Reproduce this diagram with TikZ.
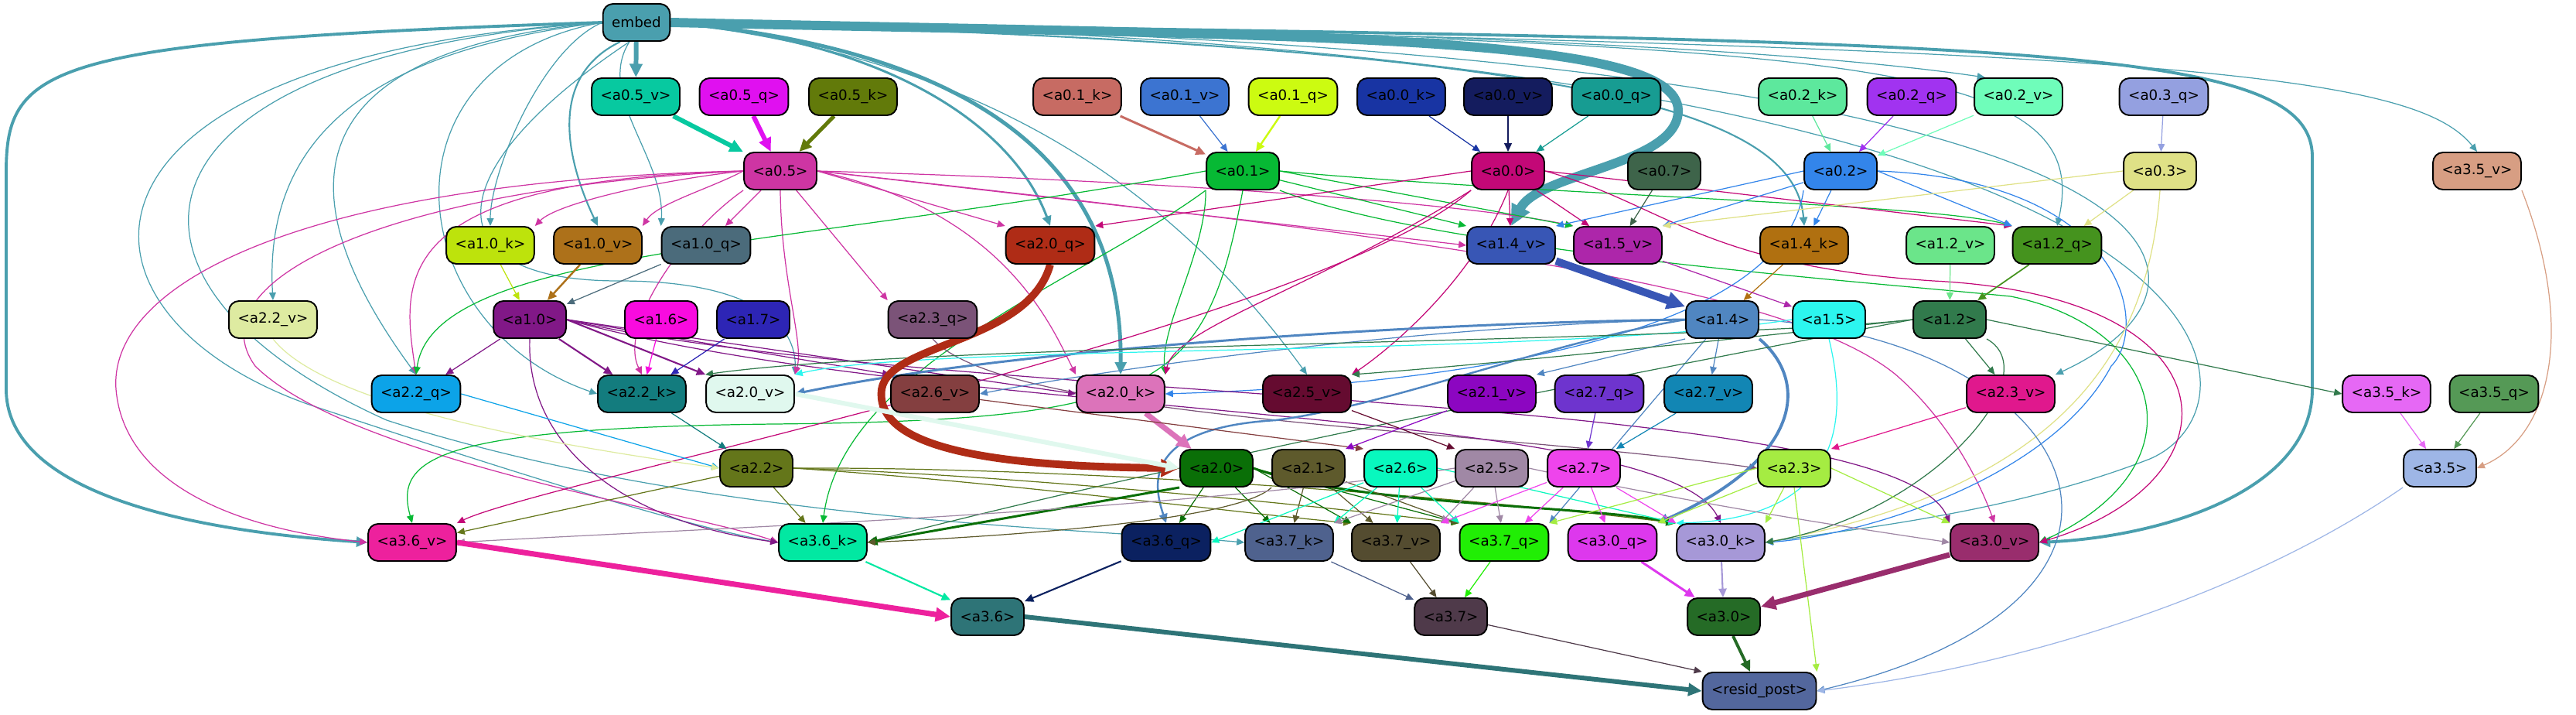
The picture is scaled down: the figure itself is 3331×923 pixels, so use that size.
\documentclass[tikz,border=0pt]{standalone}
\usepackage{fontspec}
\setmainfont{DejaVu Sans}
\usepackage{tikz}
\usetikzlibrary{arrows.meta,backgrounds}
\definecolor{cemb}{HTML}{4A9FAE}
\definecolor{c05v}{HTML}{07C9A0}
\definecolor{c05q}{HTML}{E010F0}
\definecolor{c05k}{HTML}{627A0A}
\definecolor{c01k}{HTML}{C76B63}
\definecolor{c01v}{HTML}{3C74D1}
\definecolor{c01q}{HTML}{CCFB11}
\definecolor{c00k}{HTML}{1834A3}
\definecolor{c00v}{HTML}{141C5E}
\definecolor{c00q}{HTML}{179C92}
\definecolor{c02k}{HTML}{5DE89D}
\definecolor{c02q}{HTML}{A133F0}
\definecolor{c02v}{HTML}{6FFDBA}
\definecolor{c03q}{HTML}{94A0E0}
\definecolor{c05}{HTML}{CE35A3}
\definecolor{c01}{HTML}{07B934}
\definecolor{c00}{HTML}{C30877}
\definecolor{c07}{HTML}{3E644A}
\definecolor{c02}{HTML}{3385EA}
\definecolor{c03}{HTML}{DFE186}
\definecolor{c35v}{HTML}{D79E83}
\definecolor{c10k}{HTML}{BDE30C}
\definecolor{c10v}{HTML}{AD711A}
\definecolor{c10q}{HTML}{4B6B7B}
\definecolor{c20q}{HTML}{AF2C16}
\definecolor{c14v}{HTML}{3856B5}
\definecolor{c15v}{HTML}{AD26AA}
\definecolor{c14k}{HTML}{B07010}
\definecolor{c12v}{HTML}{6BE58A}
\definecolor{c12q}{HTML}{45931E}
\definecolor{c22v}{HTML}{DEEBA1}
\definecolor{c10}{HTML}{811887}
\definecolor{c16}{HTML}{F90BDF}
\definecolor{c17}{HTML}{2D25B5}
\definecolor{c23q}{HTML}{7B5378}
\definecolor{c14}{HTML}{5086C1}
\definecolor{c15}{HTML}{2CF6EF}
\definecolor{c12}{HTML}{317A4C}
\definecolor{c22q}{HTML}{0CA3E8}
\definecolor{c22k}{HTML}{137C7E}
\definecolor{c20v}{HTML}{E0F8EE}
\definecolor{c26v}{HTML}{843F40}
\definecolor{c20k}{HTML}{DC73BA}
\definecolor{c25v}{HTML}{650B30}
\definecolor{c21v}{HTML}{8C06C1}
\definecolor{c27q}{HTML}{6E34CE}
\definecolor{c27v}{HTML}{1286B4}
\definecolor{c23v}{HTML}{E0188D}
\definecolor{c35k}{HTML}{E668F5}
\definecolor{c35q}{HTML}{559956}
\definecolor{c22}{HTML}{64761A}
\definecolor{c20}{HTML}{0A6F07}
\definecolor{c21}{HTML}{5E5A2C}
\definecolor{c26}{HTML}{08F8BE}
\definecolor{c25}{HTML}{A088A5}
\definecolor{c27}{HTML}{EE44EC}
\definecolor{c23}{HTML}{A5EC42}
\definecolor{c35}{HTML}{9EB6E6}
\definecolor{c36v}{HTML}{ED219D}
\definecolor{c36k}{HTML}{02E8A2}
\definecolor{c36q}{HTML}{0B2160}
\definecolor{c37k}{HTML}{4F628E}
\definecolor{c37v}{HTML}{544C30}
\definecolor{c37q}{HTML}{21EE05}
\definecolor{c30q}{HTML}{DD38ED}
\definecolor{c30k}{HTML}{A698D7}
\definecolor{c30v}{HTML}{992D6D}
\definecolor{c36}{HTML}{2E7477}
\definecolor{c37}{HTML}{4F3A4A}
\definecolor{c30}{HTML}{256B26}
\definecolor{cres}{HTML}{53679D}

\begin{document}
\begin{tikzpicture}[x=0.01cm,y=0.01cm,
  nd/.style={rectangle,rounded corners=1.3mm,draw=black,line width=0.55pt,minimum height=4.8mm,inner xsep=1.15mm,inner ysep=0pt,font=\fontsize{5.2}{6}\selectfont},
  arr/.style={-{Triangle[length=0.8mm 1.6,width=0.7mm 1.5]},line width=0.35pt}]
\useasboundingbox (0,0) rectangle (3331,923);
\node[nd,fill=cemb] (emb) at (823,894) {embed};
\node[nd,fill=c05v] (a05v) at (822,798) {<a0.5\_v>};
\node[nd,fill=c05q] (a05q) at (962,798) {<a0.5\_q>};
\node[nd,fill=c05k] (a05k) at (1103,798) {<a0.5\_k>};
\node[nd,fill=c01k] (a01k) at (1393,798) {<a0.1\_k>};
\node[nd,fill=c01v] (a01v) at (1532,798) {<a0.1\_v>};
\node[nd,fill=c01q] (a01q) at (1672,798) {<a0.1\_q>};
\node[nd,fill=c00k] (a00k) at (1812,798) {<a0.0\_k>};
\node[nd,fill=c00v] (a00v) at (1950,798) {<a0.0\_v>};
\node[nd,fill=c00q] (a00q) at (2090,798) {<a0.0\_q>};
\node[nd,fill=c02k] (a02k) at (2331,798) {<a0.2\_k>};
\node[nd,fill=c02q] (a02q) at (2472,798) {<a0.2\_q>};
\node[nd,fill=c02v] (a02v) at (2610,798) {<a0.2\_v>};
\node[nd,fill=c03q] (a03q) at (2798,798) {<a0.3\_q>};
\node[nd,fill=c05] (a05) at (1009,702) {<a0.5>};
\node[nd,fill=c01] (a01) at (1607,702) {<a0.1>};
\node[nd,fill=c00] (a00) at (1950,702) {<a0.0>};
\node[nd,fill=c07] (a07) at (2152,702) {<a0.7>};
\node[nd,fill=c02] (a02) at (2380,702) {<a0.2>};
\node[nd,fill=c03] (a03) at (2793,702) {<a0.3>};
\node[nd,fill=c35v] (a35v) at (3203,702) {<a3.5\_v>};
\node[nd,fill=c10k] (a10k) at (634,606) {<a1.0\_k>};
\node[nd,fill=c10v] (a10v) at (773,606) {<a1.0\_v>};
\node[nd,fill=c10q] (a10q) at (913,606) {<a1.0\_q>};
\node[nd,fill=c20q] (a20q) at (1358,606) {<a2.0\_q>};
\node[nd,fill=c14v] (a14v) at (1954,606) {<a1.4\_v>};
\node[nd,fill=c15v] (a15v) at (2092,606) {<a1.5\_v>};
\node[nd,fill=c14k] (a14k) at (2333,606) {<a1.4\_k>};
\node[nd,fill=c12v] (a12v) at (2522,606) {<a1.2\_v>};
\node[nd,fill=c12q] (a12q) at (2660,606) {<a1.2\_q>};
\node[nd,fill=c22v] (a22v) at (353,510) {<a2.2\_v>};
\node[nd,fill=c10] (a10) at (685,510) {<a1.0>};
\node[nd,fill=c16] (a16) at (855,510) {<a1.6>};
\node[nd,fill=c17] (a17) at (974,510) {<a1.7>};
\node[nd,fill=c23q] (a23q) at (1206,510) {<a2.3\_q>};
\node[nd,fill=c14] (a14) at (2227,510) {<a1.4>};
\node[nd,fill=c15] (a15) at (2365,510) {<a1.5>};
\node[nd,fill=c12] (a12) at (2521,510) {<a1.2>};
\node[nd,fill=c22q] (a22q) at (538,414) {<a2.2\_q>};
\node[nd,fill=c22k] (a22k) at (830,414) {<a2.2\_k>};
\node[nd,fill=c20v] (a20v) at (970,414) {<a2.0\_v>};
\node[nd,fill=c26v] (a26v) at (1209,414) {<a2.6\_v>};
\node[nd,fill=c20k] (a20k) at (1449,414) {<a2.0\_k>};
\node[nd,fill=c25v] (a25v) at (1690,414) {<a2.5\_v>};
\node[nd,fill=c21v] (a21v) at (1929,414) {<a2.1\_v>};
\node[nd,fill=c27q] (a27q) at (2068,414) {<a2.7\_q>};
\node[nd,fill=c27v] (a27v) at (2209,414) {<a2.7\_v>};
\node[nd,fill=c23v] (a23v) at (2600,414) {<a2.3\_v>};
\node[nd,fill=c35k] (a35k) at (3086,414) {<a3.5\_k>};
\node[nd,fill=c35q] (a35q) at (3225,414) {<a3.5\_q>};
\node[nd,fill=c22] (a22) at (978,318) {<a2.2>};
\node[nd,fill=c20] (a20) at (1573,318) {<a2.0>};
\node[nd,fill=c21] (a21) at (1692,318) {<a2.1>};
\node[nd,fill=c26] (a26) at (1811,318) {<a2.6>};
\node[nd,fill=c25] (a25) at (1929,318) {<a2.5>};
\node[nd,fill=c27] (a27) at (2048,318) {<a2.7>};
\node[nd,fill=c23] (a23) at (2320,318) {<a2.3>};
\node[nd,fill=c35] (a35) at (3155,318) {<a3.5>};
\node[nd,fill=c36v] (a36v) at (533,222) {<a3.6\_v>};
\node[nd,fill=c36k] (a36k) at (1064,222) {<a3.6\_k>};
\node[nd,fill=c36q] (a36q) at (1508,222) {<a3.6\_q>};
\node[nd,fill=c37k] (a37k) at (1667,222) {<a3.7\_k>};
\node[nd,fill=c37v] (a37v) at (1805,222) {<a3.7\_v>};
\node[nd,fill=c37q] (a37q) at (1945,222) {<a3.7\_q>};
\node[nd,fill=c30q] (a30q) at (2085,222) {<a3.0\_q>};
\node[nd,fill=c30k] (a30k) at (2225,222) {<a3.0\_k>};
\node[nd,fill=c30v] (a30v) at (2579,222) {<a3.0\_v>};
\node[nd,fill=c36] (a36) at (1277,126) {<a3.6>};
\node[nd,fill=c37] (a37) at (1876,126) {<a3.7>};
\node[nd,fill=c30] (a30) at (2229,126) {<a3.0>};
\node[nd,fill=cres] (resid) at (2275,30) {<resid\_post>};
\begin{scope}[on background layer]
% embed
\draw[arr,cemb,line width=1.7pt] (emb) -- (a05v);
\draw[arr,cemb] (emb.west) .. controls (700,860) and (634,700) .. (a10k.north);
\draw[arr,cemb,line width=0.6pt] (emb.230) .. controls (700,820) and (740,700) .. (a10v.north);
\draw[arr,cemb] (emb.250) .. controls (770,800) and (860,720) .. (a10q.north west);
\draw[arr,cemb] (emb.west) .. controls (500,860) and (340,760) .. (a22v.north);
\draw[arr,cemb] (emb.west) .. controls (300,850) and (420,600) .. (a22q.north);
\draw[arr,cemb] (emb.west) .. controls (480,840) and (520,500) .. (a22k.west);
\draw[arr,cemb] (emb.250) .. controls (560,700) and (560,560) .. (800,560) .. controls (980,560) and (1030,500) .. (a20v.north east);
\draw[arr,cemb,line width=0.85pt] (emb.east) .. controls (1150,870) and (1310,760) .. (a20q.north);
\draw[arr,cemb,line width=1.4pt] (emb.east) .. controls (1250,860) and (1452,720) .. (a20k.north);
\draw[arr,cemb] (emb.east) .. controls (1250,850) and (1500,700) .. (a25v.north);
\draw[arr,cemb,line width=3.4pt] (emb.east) .. controls (1700,876) and (2170,880) .. (2170,780) .. controls (2170,710) and (1990,700) .. (a14v.north);
\draw[arr,cemb,line width=0.6pt] (emb.east) .. controls (2050,865) and (2320,780) .. (a14k.north);
\draw[arr,cemb] (emb.east) .. controls (2100,885) and (2450,840) .. (a02v.150);
\draw[arr,cemb] (emb.east) .. controls (2400,872) and (2710,850) .. (a12q.north);
\draw[arr,cemb] (emb.east) .. controls (2800,865) and (3120,830) .. (a35v.north);
\draw[arr,cemb] (emb.east) .. controls (2900,870) and (2920,560) .. (a23v.north east);
\draw[arr,cemb] (emb.east) .. controls (2950,875) and (2945,400) .. (2780,330) .. controls (2600,260) and (2400,240) .. (a30k.east);
\draw[arr,cemb,line width=1.1pt] (emb.east) .. controls (2600,870) and (2990,870) .. (2990,720) -- (2990,420) .. controls (2990,290) and (2800,230) .. (a30v.east);
\draw[arr,cemb,line width=1.1pt] (emb.west) .. controls (60,870) and (8,840) .. (8,700) -- (8,420) .. controls (8,300) and (200,240) .. (a36v.west);
\draw[arr,cemb] (emb.west) .. controls (60,850) and (60,520) .. (400,400) .. controls (700,300) and (900,240) .. (a36k.west);
\draw[arr,cemb] (emb.west) .. controls (150,850) and (100,560) .. (500,380) .. controls (900,250) and (1400,240) .. (a37k.west);
% layer 0
\draw[arr,c05v,line width=1.7pt] (a05v) -- (a05);
\draw[arr,c05q,line width=1.7pt] (a05q) -- (a05);
\draw[arr,c05k,line width=1.4pt] (a05k) -- (a05);
\draw[arr,c01k,line width=0.85pt] (a01k) -- (a01);
\draw[arr,c01v] (a01v) -- (a01);
\draw[arr,c01q,line width=0.7pt] (a01q) -- (a01);
\draw[arr,c00k] (a00k) -- (a00);
\draw[arr,c00v,line width=0.5pt] (a00v) -- (a00);
\draw[arr,c00q] (a00q) -- (a00);
\draw[arr,c02k] (a02k) -- (a02);
\draw[arr,c02q] (a02q) -- (a02);
\draw[arr,c02v] (a02v) -- (a02);
\draw[arr,c03q] (a03q) -- (a03);
\draw[arr,c35v] (a35v.south east) .. controls (3330,500) and (3300,360) .. (a35.east);
\draw[arr,c05] (a05.west) .. controls (850,690) and (720,660) .. (a10k.north east);
\draw[arr,c05] (a05.west) .. controls (920,680) and (850,660) .. (a10v.north east);
\draw[arr,c05] (a05) -- (a10q);
\draw[arr,c05] (a05.east) -- (a20q.north west);
\draw[arr,c05] (a05.east) -- (a14v.west);
\draw[arr,c05] (a05.east) .. controls (1500,690) and (1900,660) .. (a15v.north west);
\draw[arr,c05] (a05) -- (a23q.north west);
\draw[arr,c05] (a05.west) .. controls (500,690) and (520,560) .. (a22q.north);
\draw[arr,c05] (a05.south west) .. controls (880,620) and (800,500) .. (a22k.north);
\draw[arr,c05] (a05.south) .. controls (1010,560) and (1040,480) .. (a20v.north east);
\draw[arr,c05] (a05.east) .. controls (1300,650) and (1360,500) .. (a20k.north west);
\draw[arr,c05] (a05.west) .. controls (400,690) and (140,560) .. (150,420) .. controls (160,300) and (300,240) .. (a36v.west);
\draw[arr,c05] (a05.west) .. controls (500,680) and (250,560) .. (330,450) .. controls (450,330) and (900,260) .. (a36k.west);
\draw[arr,c05] (a05.east) .. controls (1800,620) and (2300,560) .. (2450,440) .. controls (2520,380) and (2560,300) .. (a30v.north);
\draw[arr,c01] (a01) -- (a14v.north west);
\draw[arr,c01] (a01.east) -- (a15v.north west);
\draw[arr,c01] (a01.west) .. controls (1000,600) and (560,600) .. (a22q.north);
\draw[arr,c01] (a01.south west) .. controls (1560,600) and (1500,500) .. (a20k.north east);
\draw[arr,c01] (a01.south west) .. controls (1400,560) and (1090,450) .. (a36k.north);
\draw[arr,c01] (a01.south) .. controls (1560,420) and (1500,380) .. (1000,375) .. controls (560,370) and (510,330) .. (a36v.north);
\draw[arr,c01] (a01.south east) .. controls (1850,600) and (2400,560) .. (2600,540) .. controls (2800,500) and (2850,320) .. (a30v.east);
\draw[arr,c01] (a01.east) .. controls (2000,670) and (2500,660) .. (a12q.north west);
\draw[arr,c00] (a00) -- (a14v);
\draw[arr,c00] (a00) -- (a15v);
\draw[arr,c00] (a00.west) -- (a20q.north east);
\draw[arr,c00] (a00.east) -- (a12q.north west);
\draw[arr,c00] (a00.south west) .. controls (1700,550) and (1520,500) .. (a20k.north east);
\draw[arr,c00] (a00.south) .. controls (1900,550) and (1780,460) .. (a25v.north east);
\draw[arr,c00] (a00.south west) .. controls (1700,500) and (700,300) .. (a36v.north east);
\draw[arr,c00] (a00.east) .. controls (2150,660) and (2200,580) .. (2500,560) .. controls (2900,540) and (2900,300) .. (a30v.east);
\draw[arr,c02] (a02.west) -- (a14v.north east);
\draw[arr,c02] (a02) -- (a15v.north east);
\draw[arr,c02] (a02) -- (a14k);
\draw[arr,c02] (a02.east) -- (a12q.north west);
\draw[arr,c02] (a02.east) .. controls (2750,690) and (2780,500) .. (2730,450) .. controls (2650,300) and (2400,230) .. (a30k.east);
\draw[arr,c02] (a02.south west) .. controls (2300,450) and (1700,420) .. (a20k.east);
\draw[arr,c07] (a07) -- (a15v);
\draw[arr,c03] (a03.west) -- (a15v.north east);
\draw[arr,c03] (a03) -- (a12q);
\draw[arr,c03] (a03.south) .. controls (2780,500) and (2700,300) .. (a30k.east);
% layer 1
\draw[arr,c10k] (a10k) -- (a10);
\draw[arr,c10v,line width=0.7pt] (a10v) -- (a10);
\draw[arr,c10q] (a10q) -- (a10);
\draw[arr,c14v,line width=2.8pt] (a14v) -- (a14);
\draw[arr,c14k] (a14k) -- (a14);
\draw[arr,c15v] (a15v) -- (a15);
\draw[arr,c12v] (a12v) -- (a12);
\draw[arr,c12q,line width=0.5pt] (a12q) -- (a12);
\draw[arr,c23q] (a23q.south) .. controls (1300,380) and (1900,370) .. (a23.west);
\draw[arr,c10] (a10) -- (a22q);
\draw[arr,c10,line width=0.6pt] (a10) -- (a22k);
\draw[arr,c10,line width=0.6pt] (a10.east) -- (a20v.north west);
\draw[arr,c10] (a10.east) -- (a26v.north west);
\draw[arr,c10] (a10.east) -- (a20k.west);
\draw[arr,c10] (a10.south) .. controls (680,350) and (800,250) .. (a36k.west);
\draw[arr,c10] (a10.east) .. controls (1200,380) and (2150,400) .. (a30k.north);
\draw[arr,c10] (a10.east) .. controls (1200,400) and (2450,420) .. (a30v.north west);
\draw[arr,c16] (a16) -- (a22k);
\draw[arr,c17] (a17) -- (a22k);
\draw[arr,c14,line width=0.85pt] (a14.west) .. controls (1800,505) and (1300,470) .. (a20v.east);
\draw[arr,c14] (a14.west) .. controls (1800,500) and (1400,440) .. (a26v.east);
\draw[arr,c14] (a14.south west) -- (a21v.north east);
\draw[arr,c14] (a14) -- (a27v);
\draw[arr,c14,line width=0.7pt] (a14.west) .. controls (2000,480) and (1800,400) .. (1650,380) .. controls (1480,370) and (1490,300) .. (a36q.north);
\draw[arr,c14,line width=1.1pt] (a14.south east) .. controls (2340,430) and (2330,330) .. (a30q.north east);
\draw[arr,c14] (a14) -- (a37q.north east);
\draw[arr,c14] (a14.east) .. controls (2700,480) and (2850,150) .. (resid.east);
\draw[arr,c15] (a15.south) .. controls (2410,300) and (2300,250) .. (a30k.north west);
\draw[arr,c15] (a15.west) .. controls (2000,460) and (1200,480) .. (a20v.north east);
\draw[arr,c12] (a12.west) .. controls (2200,480) and (1200,480) .. (a20v.north west);
\draw[arr,c12] (a12.west) .. controls (2200,480) and (1900,450) .. (a25v.north east);
\draw[arr,c12] (a12) -- (a23v);
\draw[arr,c12] (a12.east) -- (a35k.west);
\draw[arr,c12] (a12.west) .. controls (2000,420) and (1500,320) .. (a36k.east);
\draw[arr,c12] (a12.south east) .. controls (2650,440) and (2500,260) .. (a30k.east);
% layer 2
\draw[arr,c22q] (a22q.east) -- (a22.west);
\draw[arr,c22k] (a22k) -- (a22);
\draw[arr,c22v] (a22v.south) .. controls (420,400) and (700,350) .. (a22.west);
\draw[arr,c20q,line width=2.8pt] (a20q.south) .. controls (1330,480) and (1150,480) .. (1140,420) .. controls (1130,340) and (1300,320) .. (a20.west);
\draw[arr,c20k,line width=2pt] (a20k) -- (a20);
\draw[arr,c20v,line width=1.7pt] (a20v.east) -- (a20.west);
\draw[arr,c26v] (a26v) -- (a26.north west);
\draw[arr,c25v] (a25v) -- (a25.north west);
\draw[arr,c21v] (a21v) -- (a21.north east);
\draw[arr,c27q] (a27q) -- (a27);
\draw[arr,c27v] (a27v) -- (a27);
\draw[arr,c23v] (a23v) -- (a23.north east);
\draw[arr,c35k] (a35k) -- (a35);
\draw[arr,c35q] (a35q) -- (a35);
\draw[arr,c22] (a22) -- (a36v);
\draw[arr,c22] (a22) -- (a36k);
\draw[arr,c22] (a22.east) .. controls (1300,300) and (1600,260) .. (a37v.north west);
\draw[arr,c22] (a22.east) .. controls (1300,310) and (1700,270) .. (a37q.north west);
\draw[arr,c22] (a22.east) .. controls (1400,320) and (1900,280) .. (a30k.north west);
\draw[arr,c20,line width=0.85pt] (a20.south west) -- (a36k.east);
\draw[arr,c20] (a20) -- (a36q);
\draw[arr,c20] (a20) -- (a37k);
\draw[arr,c20] (a20.east) -- (a37v.north west);
\draw[arr,c20] (a20.east) -- (a37q.north west);
\draw[arr,c20,line width=0.85pt] (a20.east) .. controls (1750,270) and (2050,270) .. (a30k.north west);
\draw[arr,c21] (a21.south west) .. controls (1600,250) and (1300,230) .. (a36k.east);
\draw[arr,c21] (a21) -- (a37k);
\draw[arr,c21] (a21) -- (a37v);
\draw[arr,c21] (a21) -- (a37q.north west);
\draw[arr,c26] (a26) -- (a36q.east);
\draw[arr,c26] (a26) -- (a37k.north east);
\draw[arr,c26] (a26) -- (a37v);
\draw[arr,c26] (a26) -- (a37q.north west);
\draw[arr,c26] (a26.east) -- (a30k.north west);
\draw[arr,c25] (a25.west) .. controls (1500,260) and (900,240) .. (a36v.east);
\draw[arr,c25] (a25) -- (a37k.north east);
\draw[arr,c25] (a25) -- (a37v.north east);
\draw[arr,c25] (a25) -- (a37q);
\draw[arr,c25] (a25.east) .. controls (2200,270) and (2400,240) .. (a30v.west);
\draw[arr,c27] (a27) -- (a37v.north east);
\draw[arr,c27] (a27) -- (a37q);
\draw[arr,c27] (a27) -- (a30q);
\draw[arr,c27] (a27) -- (a30k.north west);
\draw[arr,c23] (a23.west) -- (a37q.north east);
\draw[arr,c23] (a23) -- (a30q.north east);
\draw[arr,c23] (a23) -- (a30k.north east);
\draw[arr,c23] (a23.east) -- (a30v.north west);
\draw[arr,c23] (a23.south) -- (resid.north east);
% layer 3
\draw[arr,c36v,line width=2pt] (a36v.east) -- (a36.west);
\draw[arr,c36k,line width=0.6pt] (a36k) -- (a36);
\draw[arr,c36q,line width=0.6pt] (a36q) -- (a36);
\draw[arr,c37k] (a37k) -- (a37);
\draw[arr,c37v] (a37v) -- (a37);
\draw[arr,c37q] (a37q) -- (a37);
\draw[arr,c30q,line width=0.85pt] (a30q) -- (a30);
\draw[arr,c30k,line width=0.6pt] (a30k) -- (a30);
\draw[arr,c30v,line width=2pt] (a30v) -- (a30);
\draw[arr,c36,line width=1.7pt] (a36.east) -- (resid.west);
\draw[arr,c37] (a37) -- (resid.north west);
\draw[arr,c30,line width=1.1pt] (a30) -- (resid);
\draw[arr,c35] (a35.south west) .. controls (2900,150) and (2600,60) .. (resid.east);
\end{scope}
\end{tikzpicture}
\end{document}
